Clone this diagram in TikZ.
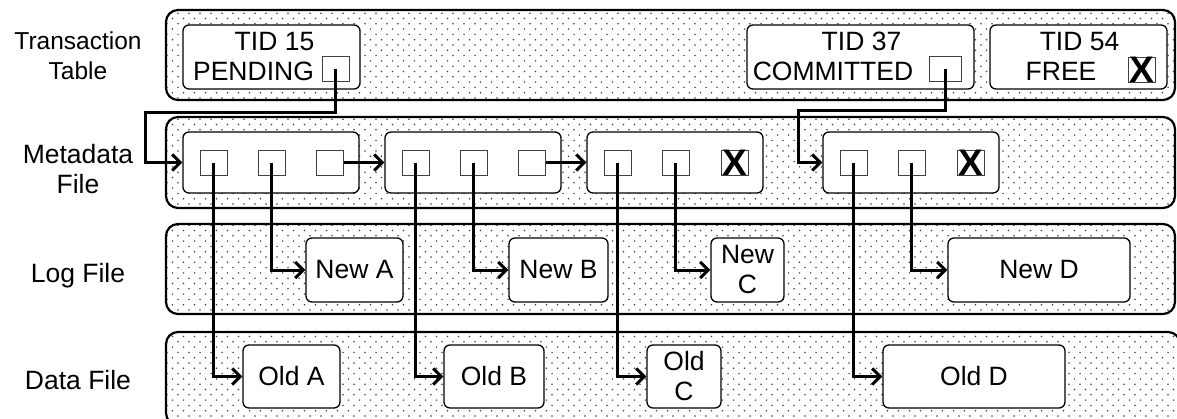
\documentclass[tikz,border=0pt]{standalone}
\usepackage{fontspec}
\setmainfont{Liberation Sans}
\usetikzlibrary{patterns,arrows.meta}
\pgfdeclarepatternformonly{stagdots}{\pgfpoint{-1pt}{-1pt}}{\pgfpoint{12pt}{11.6pt}}{\pgfpoint{11pt}{10.6pt}}{%
  \pgfpathcircle{\pgfpoint{2pt}{2pt}}{0.85pt}%
  \pgfpathcircle{\pgfpoint{7.5pt}{7.3pt}}{0.85pt}%
  \pgfusepath{fill}}
\begin{document}
\begin{tikzpicture}[x=1pt,y=-1pt,
  font=\fontsize{26.5}{30}\selectfont,
  band/.style={draw, line width=2.2pt, rounded corners=12pt, pattern=stagdots, pattern color=black!75},
  box/.style={draw, fill=white, line width=1.3pt, rounded corners=6pt, inner sep=0pt, align=center},
  sq/.style={draw=black!75, fill=white, line width=1pt, minimum width=27pt, minimum height=25pt, inner sep=0pt},
  xmark/.style={font=\bfseries\fontsize{37}{37}\selectfont, inner sep=0pt},
  lbl/.style={inner sep=0pt, align=center},
  arr/.style={line width=3pt, -{Straight Barb[length=8pt,width=16pt]}}]
\useasboundingbox (0,0) rectangle (1177,418);
% bands
\path[band] (166,10) rectangle (1175,100);
\path[band] (166,117) rectangle (1175,208);
\path[band] (166,224) rectangle (1175,314);
\begin{scope}
\clip (0,0) rectangle (1177,418);
\path[band] (166,332) rectangle (1180,425);
\end{scope}
% row labels
\node[lbl, font=\fontsize{24.5}{30}\selectfont] (lt) at (78,55.5) {Transaction\\Table};
\node[lbl] (lm) at (78,169) {Metadata\\File};
\node[lbl, anchor=base] (ll) at (78,282) {Log File};
\node[lbl, anchor=base] (ld) at (78,389.5) {Data File};
% transaction table
\node[box, minimum width=177pt, minimum height=64pt] (t15) at (271.5,57) {};
\node[box, minimum width=227pt, minimum height=64pt] (t37) at (860.5,57) {};
\node[box, minimum width=177pt, minimum height=64pt] (t54) at (1078.5,57) {};
\node[lbl, anchor=base] (t15a) at (274.5,50.5) {TID 15};
\node[lbl, anchor=base] (t15b) at (253.5,80.5) {PENDING};
\node[lbl, anchor=base] (t37a) at (861.5,50.5) {TID 37};
\node[lbl, anchor=base] (t37b) at (833,80.5) {COMMITTED};
\node[lbl, anchor=base] (t54a) at (1079.5,50.5) {TID 54};
\node[lbl, anchor=base] (t54b) at (1061,80.5) {FREE};
\node[sq] (t15s) at (335.5,68.5) {};
\node[sq, minimum width=32pt] (t37s) at (945.5,68.5) {};
\node[sq] (t54s) at (1141.5,69.5) {};
\node[xmark] (t54x) at (t54s.center) {X};
% metadata file
\foreach \n/\x in {m1/271,m2/473,m3/675,m4/911}
  \node[box, minimum width=176pt, minimum height=61pt] (\n) at (\x,162.5) {};
\node[sq] (m1a) at (213.5,162.5) {};
\node[sq] (m1b) at (271.5,162.5) {};
\node[sq] (m1c) at (329.5,162.5) {};
\node[sq] (m2a) at (415.5,162.5) {};
\node[sq] (m2b) at (473.5,162.5) {};
\node[sq] (m2c) at (531.5,162.5) {};
\node[sq] (m3a) at (617.5,162.5) {};
\node[sq] (m3b) at (675.5,162.5) {};
\node[sq] (m3c) at (734.5,162.5) {};
\node[xmark] (m3x) at (m3c.center) {X};
\node[sq] (m4a) at (853.5,162.5) {};
\node[sq] (m4b) at (911.5,162.5) {};
\node[sq] (m4c) at (970.5,162.5) {};
\node[xmark] (m4x) at (m4c.center) {X};
% log file
\node[box, minimum width=97pt, minimum height=64pt] (newA) at (354.5,270) {New A};
\node[box, minimum width=99pt, minimum height=64pt] (newB) at (558.5,270) {New B};
\node[box, minimum width=73pt, minimum height=64pt] (newC) at (747.5,270) {New\\C};
\node[box, minimum width=182pt, minimum height=64pt] (newD) at (1039,270) {New D};
% data file
\node[box, minimum width=97pt, minimum height=63pt] (oldA) at (291.5,376.5) {Old A};
\node[box, minimum width=100pt, minimum height=63pt] (oldB) at (494,376.5) {Old B};
\node[box, minimum width=74pt, minimum height=63pt] (oldC) at (684,376.5) {Old\\C};
\node[box, minimum width=182pt, minimum height=63pt] (oldD) at (974,376.5) {Old D};
% connectors
\coordinate (c1) at (145,112);
\coordinate (c2) at (798,110);
\draw[arr] (t15s.center) |- (c1) |- (m1.west);
\draw[arr] (t37s.center) |- (c2) |- (m4.west);
\draw[arr] (m1c.east) -- (m2.west);
\draw[arr] (m2c.east) -- (m3.west);
\draw[arr] (m1a.center) |- (oldA.west);
\draw[arr] (m1b.center) |- (newA.west);
\draw[arr] (m2a.center) |- (oldB.west);
\draw[arr] (m2b.center) |- (newB.west);
\draw[arr] (m3a.center) |- (oldC.west);
\draw[arr] (m3b.center) |- (newC.west);
\draw[arr] (m4a.center) |- (oldD.west);
\draw[arr] (m4b.center) |- (newD.west);
\end{tikzpicture}
\end{document}
